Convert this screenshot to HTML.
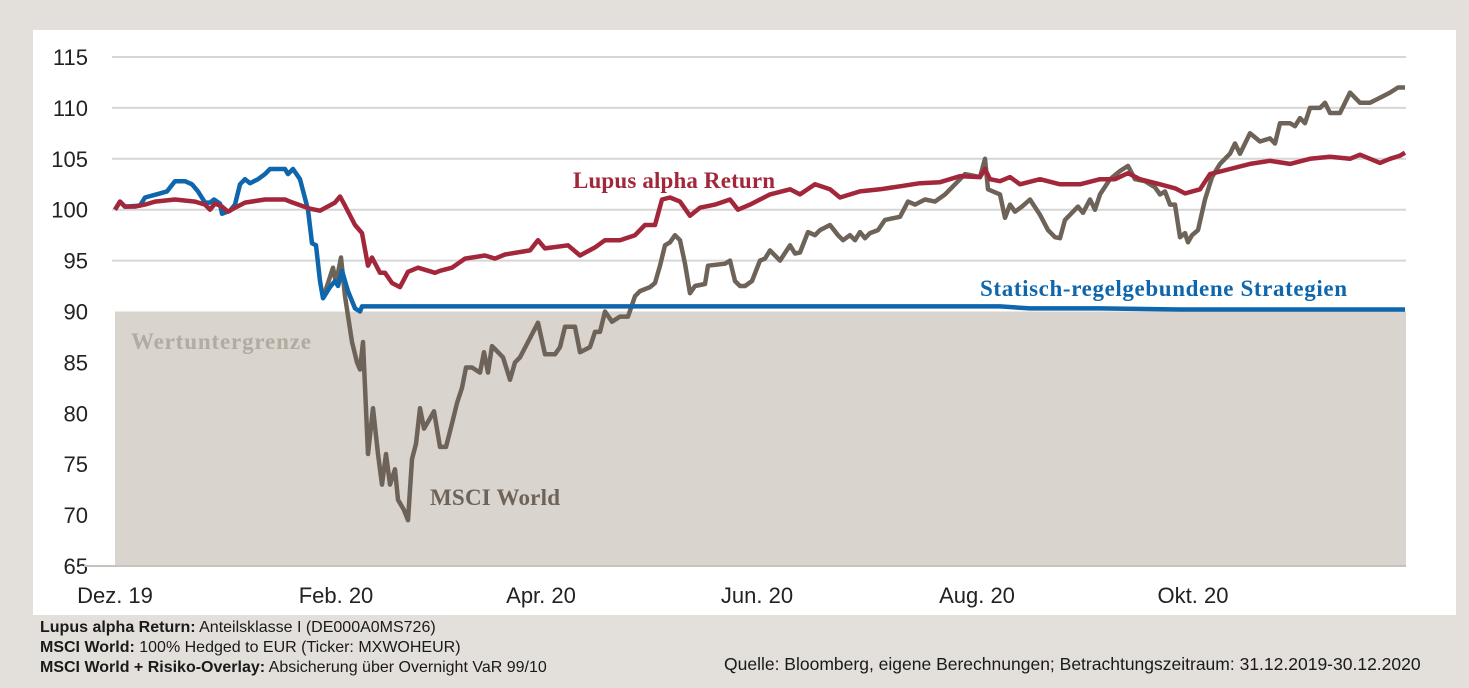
<!DOCTYPE html>
<html><head><meta charset="utf-8"><style>
body{margin:0;width:1469px;height:688px;background:#e3dfda;overflow:hidden;font-family:"Liberation Sans",sans-serif}
#p{position:absolute;left:33px;top:30px;width:1423px;height:585px;background:#fff}
.n{position:absolute;font-size:11px;color:#111}
</style></head><body>
<div id="p"></div>
<svg width="1469" height="688" style="position:absolute;left:0;top:0" id="s"></svg>
<div class="n" style="left:40px;top:618px;font-size:16px;line-height:20px;color:#1a1a1a">
<b>Lupus alpha Return:</b> Anteilsklasse I (DE000A0MS726)<br>
<b>MSCI World:</b> 100% Hedged to EUR (Ticker: MXWOHEUR)<br>
<b>MSCI World + Risiko-Overlay:</b> Absicherung über Overnight VaR 99/10</div>
<div class="n" style="left:724px;top:654px;font-size:17.5px;color:#1a1a1a">Quelle: Bloomberg, eigene Berechnungen; Betrachtungszeitraum: 31.12.2019-30.12.2020</div>
<script>
const Y=v=>57+(115-v)*10.18;
let s='';
s+=`<rect x="115" y="${Y(90)}" width="1291" height="${Y(65)-Y(90)}" fill="#dad4ce"/>`;
for(let v=65;v<=115;v+=5){
 if(v>90) s+=`<line x1="112" x2="1406" y1="${Y(v)}" y2="${Y(v)}" stroke="#d6d6d6" stroke-width="2"/>`;
 s+=`<text x="88" y="${Y(v)+8}" text-anchor="end" font-size="22" fill="#222">${v}</text>`;
}
s+=`<line x1="84" x2="1406" y1="${Y(65)}" y2="${Y(65)}" stroke="#c8c2bb" stroke-width="2"/>`;
[["Dez. 19",115],["Feb. 20",336],["Apr. 20",541],["Jun. 20",757],["Aug. 20",977],["Okt. 20",1193]].forEach(([t,x])=>s+=`<text x="${x}" y="603" text-anchor="middle" font-size="22" fill="#222">${t}</text>`);
const pl=(a,c)=>{let d=[];for(let i=0;i<a.length;i+=2)d.push(a[i]+','+Y(a[i+1]).toFixed(1));return `<polyline points="${d.join(' ')}" fill="none" stroke="${c}" stroke-width="4.5" stroke-linejoin="round"/>`};
const M=[323,91.3,333,94.3,336,92.8,341,95.3,345,91.5,352,87,357,85,360,84.3,363,87,368,76,373,80.5,378,76,382,73,386,76,390,73,395,74.5,398,71.5,404,70.5,408,69.5,412,75.5,416,77,420,80.5,424,78.5,430,79.5,434,80.2,440,76.7,446,76.7,452,79,457,81,462,82.5,466,84.5,472,84.5,480,84,484,86,488,84,492,86.6,498,86,503,85.5,510,83.3,515,85,520,85.5,528,87,538,88.9,545,85.8,555,85.8,560,86.5,565,88.5,575,88.5,580,86,590,86.5,595,88,600,88,605,90,612,89,620,89.5,628,89.5,635,91.5,640,92,650,92.4,655,92.8,660,94.5,665,96.5,670,96.8,675,97.5,680,97,685,94.7,690,91.8,695,92.5,705,92.7,708,94.5,725,94.7,730,95,735,93,740,92.5,745,92.5,752,93,760,95,765,95.2,770,96,780,95,790,96.5,795,95.7,800,95.8,808,97.8,815,97.5,820,98,830,98.5,838,97.5,843,97,850,97.5,855,97,860,97.8,865,97.2,870,97.7,878,98,885,99,900,99.3,908,100.8,915,100.5,925,101,935,100.8,945,101.5,955,102.5,960,103,965,103.5,980,103.2,985,105,988,102,1000,101.5,1005,99.2,1010,100.5,1015,99.8,1022,100.3,1030,101,1040,99.5,1048,98,1055,97.3,1060,97.2,1065,99,1070,99.5,1078,100.3,1083,99.7,1090,101,1095,100,1100,101.5,1110,103,1120,103.8,1128,104.3,1135,103,1145,102.8,1155,102.2,1160,101.5,1165,101.8,1170,100.5,1175,100.5,1180,97.3,1185,97.7,1188,96.8,1192,97.5,1198,98,1205,101,1212,103.2,1220,104.5,1230,105.5,1235,106.5,1240,105.5,1245,106.5,1250,107.5,1260,106.7,1270,107,1275,106.5,1280,108.5,1290,108.5,1295,108.2,1300,109,1305,108.5,1310,110,1320,110,1325,110.5,1330,109.5,1340,109.5,1345,110.5,1350,111.5,1360,110.5,1370,110.5,1380,111,1390,111.5,1398,112,1405,112];
const B=[115,100,120,100.8,125,100.3,140,100.4,145,101.2,160,101.6,167,101.8,175,102.8,185,102.8,192,102.5,198,101.8,205,100.7,210,100.7,214,101,220,100.6,222,99.6,230,99.9,235,100.5,240,102.5,245,103,250,102.6,258,103,265,103.5,270,104,285,104,288,103.5,293,104,300,103,308,100,312,96.7,316,96.5,320,93,323,91.3,330,92.4,335,93,338,92.5,342,94,348,92,355,90.3,360,90,362,90.5,1000,90.5,1030,90.3,1100,90.3,1180,90.2,1405,90.2];
const R=[115,100,120,100.8,125,100.3,135,100.3,145,100.5,155,100.8,175,101,195,100.8,205,100.5,210,100,215,100.6,222,100.3,228,99.8,235,100.2,245,100.7,265,101,285,101,290,100.8,310,100.1,320,99.9,335,100.7,340,101.3,345,100.4,355,98.5,362,97.7,368,94.5,372,95.3,380,93.8,385,93.8,392,92.8,400,92.4,408,93.9,418,94.3,435,93.8,440,94,452,94.3,465,95.2,485,95.5,495,95.2,505,95.6,530,96,538,97,545,96.2,568,96.5,580,95.5,595,96.3,605,97,620,97,635,97.5,645,98.5,655,98.5,662,101,670,101.2,680,100.8,690,99.4,700,100.2,715,100.5,730,101,738,100,750,100.5,760,101,770,101.5,790,102,800,101.5,815,102.5,830,102,840,101.2,860,101.8,880,102,900,102.3,920,102.6,940,102.7,960,103.3,980,103.2,985,104,990,103,1000,102.8,1010,103.2,1020,102.5,1040,103,1060,102.5,1080,102.5,1100,103,1115,103,1128,103.6,1140,103,1160,102.5,1175,102.1,1185,101.6,1200,102,1210,103.5,1230,104,1250,104.5,1270,104.8,1290,104.5,1310,105,1330,105.2,1350,105,1360,105.4,1370,105,1380,104.6,1390,105,1400,105.3,1405,105.6];
s+=pl(M,'#6d6358')+pl(B,'#0e66ad')+pl(R,'#a3273a');
s+=`<text x="573" y="188" font-size="23" font-weight="bold" fill="#a3273a" font-family="Liberation Serif" textLength="202">Lupus alpha Return</text>`;
s+=`<text x="980" y="296" font-size="23" font-weight="bold" fill="#0e66ad" font-family="Liberation Serif" textLength="367">Statisch-regelgebundene Strategien</text>`;
s+=`<text x="131" y="349" font-size="23" font-weight="bold" fill="#b3aaa0" font-family="Liberation Serif" textLength="180">Wertuntergrenze</text>`;
s+=`<text x="430" y="505" font-size="23" font-weight="bold" fill="#6d6358" font-family="Liberation Serif" textLength="130">MSCI World</text>`;
document.getElementById('s').innerHTML=s;
</script>
</body></html>
